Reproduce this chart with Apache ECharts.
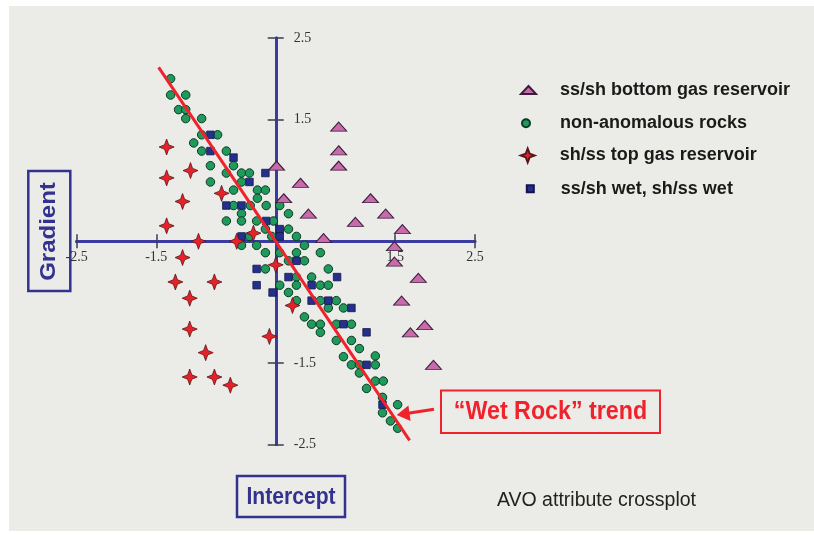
<!DOCTYPE html>
<html>
<head>
<meta charset="utf-8">
<script src="https://cdn.jsdelivr.net/npm/echarts@6/dist/echarts.min.js"></script>
<style>
  html, body { margin: 0; padding: 0; background: #ffffff; }
  #chart { width: 814px; height: 535px; }
</style>
</head>
<body>
<div id="chart"></div>
<script>
// AVO crossplot: intercept (x) against gradient (y) for four rock classes.

const seriesNames = [
  'ss/sh bottom gas reservoir',
  'non-anomalous rocks',
  'sh/ss top gas reservoir',
  'ss/sh wet, sh/ss wet'
];

// ss/sh bottom gas reservoir
const bottomGasX = [0.79, 0.79, 0.79, 0.01, 0.31, 0.10, 0.41, 1.19, 1.38, 1.00, 1.59, 0.60, 1.49, 1.49, 1.79, 1.58, 1.87, 1.69, 1.98];
const bottomGasY = [1.41, 1.12, 0.93, 0.93, 0.72, 0.53, 0.34, 0.53, 0.34, 0.24, 0.15, 0.04, -0.06, -0.25, -0.45, -0.73, -1.03, -1.12, -1.52];

// non-anomalous rocks
const backgroundX = [
  -1.32, -1.32, -1.13, -1.22, -1.13, -1.13, -0.93, -0.93, -0.73, -1.03,
  -0.93, -0.62, -0.82, -0.53, -0.62, -0.43, -0.33, -0.82, -0.43, -0.53,
  -0.23, -0.13, -0.23, -0.53, -0.32, -0.12, 0.05, -0.43, 0.16, -0.62,
  -0.43, -0.24, -0.03, 0.16, -0.13, -0.33, -0.05, 0.26, -0.43, -0.24,
  0.36, -0.13, 0.05, 0.26, 0.56, 0.16, 0.36, -0.13, 0.66, 0.26,
  0.45, 0.05, 0.26, 0.56, 0.66, 0.16, 0.26, 0.56, 0.76, 0.66,
  0.85, 0.36, 0.45, 0.56, 0.76, 0.95, 0.56, 0.76, 0.95, 1.05,
  0.85, 1.25, 0.95, 1.05, 1.25, 1.05, 1.25, 1.35, 1.14, 1.34,
  1.53, 1.34, 1.44, 1.53
];
const backgroundY = [
  2.00, 1.80, 1.80, 1.62, 1.62, 1.51, 1.51, 1.31, 1.31, 1.21,
  1.11, 1.11, 0.93, 0.93, 0.84, 0.84, 0.84, 0.73, 0.73, 0.63,
  0.63, 0.63, 0.53, 0.44, 0.44, 0.44, 0.44, 0.34, 0.34, 0.25,
  0.25, 0.25, 0.25, 0.15, 0.15, 0.06, 0.06, 0.06, -0.05, -0.05,
  -0.05, -0.14, -0.14, -0.14, -0.14, -0.24, -0.24, -0.34, -0.34, -0.44,
  -0.44, -0.54, -0.54, -0.54, -0.54, -0.63, -0.73, -0.73, -0.73, -0.82,
  -0.82, -0.93, -1.02, -1.02, -1.02, -1.02, -1.12, -1.22, -1.22, -1.32,
  -1.42, -1.41, -1.52, -1.52, -1.52, -1.62, -1.72, -1.72, -1.81, -1.92,
  -2.01, -2.11, -2.21, -2.30
];

// sh/ss top gas reservoir
const topGasX = [-1.37, -1.07, -1.37, -1.17, -1.37, -0.68, -0.28, -0.97, -0.49, -1.17, -1.26, -0.77, -1.08, -1.08, -0.88, -1.08, -0.77, -0.57, -0.08, 0.00, 0.21];
const topGasY = [1.16, 0.87, 0.78, 0.49, 0.19, 0.59, 0.10, 0.00, 0.00, -0.20, -0.50, -0.50, -0.70, -1.08, -1.37, -1.67, -1.67, -1.77, -1.17, -0.29, -0.79];

// ss/sh wet, sh/ss wet
const wetX = [-0.82, -0.82, -0.53, -0.13, -0.33, -0.62, -0.43, -0.12, 0.05, -0.43, 0.05, 0.26, -0.24, 0.16, 0.77, -0.24, 0.45, -0.04, 0.45, 0.66, 0.95, 0.85, 1.14, 1.14, 1.34];
const wetY = [1.31, 1.11, 1.03, 0.84, 0.73, 0.44, 0.44, 0.25, 0.15, 0.06, 0.06, -0.24, -0.34, -0.44, -0.44, -0.54, -0.54, -0.63, -0.73, -0.73, -0.82, -1.02, -1.12, -1.52, -2.01];

// "Wet Rock" trend line end points
const trendX = [-1.47, 1.68];
const trendY = [2.14, -2.45];

// axis range and labelled ticks
const axisMin = -2.5;
const axisMax = 2.5;
const tickValues = [-2.5, -1.5, 1.5, 2.5];

const zip = (xs, ys) => xs.map((x, i) => [x, ys[i]]);

// plot box
const GRID = { left: 76.6, top: 38.1, width: 398.3, height: 406.4 };
// distance from the plot edge to the zero line, so the axes cross at the origin
const zeroShiftX = GRID.width * (0 - axisMin) / (axisMax - axisMin);
const zeroShiftY = GRID.height * (axisMax - 0) / (axisMax - axisMin);

const STAR = 'path://M0,-8 L2.2,-2.2 L8,0 L2.2,2.2 L0,8 L-2.2,2.2 L-8,0 L-2.2,-2.2 Z';
const AXIS_BLUE = '#3b3ba0';
const LABEL_BLUE = '#33338f';
const RED = '#f0222b';

const tickStyle = { color: '#3c3c58', width: 1.5 };
const labelFont = { fontFamily: '"Liberation Serif", "Times New Roman", serif', fontSize: 14, color: '#333333' };

function valueAxis(extra) {
  return Object.assign({
    type: 'value',
    min: axisMin,
    max: axisMax,
    splitLine: { show: false },
    axisLine: { show: true, onZero: false, lineStyle: { color: AXIS_BLUE, width: 3 } }
  }, extra);
}

const legendFont = {
  fontFamily: '"Liberation Sans", Arial, sans-serif',
  fontWeight: 'bold',
  fontSize: 18,
  color: '#1a1a1a'
};

function legendRow(name, left, top, w, h, padLeft) {
  return {
    data: [name],
    orient: 'vertical',
    left: left,
    top: top,
    padding: 0,
    itemWidth: w,
    itemHeight: h,
    textStyle: Object.assign({ padding: [0, 0, 0, padLeft] }, legendFont)
  };
}

const chart = echarts.init(document.getElementById('chart'), null, { renderer: 'canvas' });

chart.setOption({
  animation: false,
  backgroundColor: 'transparent',
  grid: Object.assign({ outerBoundsMode: 'none' }, GRID),
  xAxis: [
    valueAxis({
      position: 'bottom',
      offset: -(GRID.height - zeroShiftY),
      axisTick: { show: true, customValues: tickValues, length: 7, lineStyle: tickStyle },
      axisLabel: Object.assign({ customValues: tickValues, margin: 9 }, labelFont)
    }),
    valueAxis({
      position: 'top',
      offset: -zeroShiftY,
      axisTick: { show: true, customValues: tickValues, length: 7, lineStyle: tickStyle },
      axisLabel: { show: false }
    })
  ],
  yAxis: [
    valueAxis({
      position: 'left',
      offset: -zeroShiftX,
      axisTick: { show: true, customValues: tickValues, length: 8, lineStyle: tickStyle },
      axisLabel: Object.assign({ customValues: tickValues, inside: true, margin: 18 }, labelFont)
    }),
    valueAxis({
      position: 'right',
      offset: -(GRID.width - zeroShiftX),
      axisTick: { show: true, customValues: tickValues, length: 8, lineStyle: tickStyle },
      axisLabel: { show: false }
    })
  ],
  legend: [
    legendRow(seriesNames[0], 520, 81, 15, 8, 19),
    legendRow(seriesNames[1], 521, 114.2, 8, 8, 25),
    legendRow(seriesNames[2], 519.7, 146.5, 14, 15, 20),
    legendRow(seriesNames[3], 525.8, 179.8, 7, 7, 22)
  ],
  series: [
    {
      name: seriesNames[1],
      type: 'scatter',
      data: zip(backgroundX, backgroundY),
      symbol: 'circle',
      symbolSize: 8.5,
      itemStyle: { color: '#1f9a5c', borderColor: '#0c3a22', borderWidth: 1, opacity: 1 },
      z: 2
    },
    {
      name: seriesNames[3],
      type: 'scatter',
      data: zip(wetX, wetY),
      symbol: 'rect',
      symbolSize: 7.5,
      itemStyle: { color: '#25308c', borderColor: '#10164a', borderWidth: 0.8, opacity: 1 },
      z: 3
    },
    {
      name: seriesNames[2],
      type: 'scatter',
      data: zip(topGasX, topGasY),
      symbol: STAR,
      symbolSize: [15, 16],
      itemStyle: { color: '#e52229', borderColor: '#5a1418', borderWidth: 0.8, opacity: 1 },
      z: 4
    },
    {
      name: seriesNames[0],
      type: 'scatter',
      data: zip(bottomGasX, bottomGasY),
      symbol: 'triangle',
      symbolSize: [16, 9],
      itemStyle: { color: '#c96aaa', borderColor: '#3a1f3c', borderWidth: 1, opacity: 1 },
      z: 5
    },
    {
      name: 'Wet Rock trend',
      type: 'line',
      data: zip(trendX, trendY),
      showSymbol: false,
      symbol: 'none',
      lineStyle: { color: RED, width: 3 },
      silent: true,
      z: 6
    }
  ],
  graphic: [
    {
      type: 'rect',
      shape: { x: 9, y: 6, width: 805, height: 525 },
      style: { fill: '#ebebe8' },
      silent: true,
      z: -100
    },
    // y-axis title box
    {
      type: 'rect',
      shape: { x: 28.3, y: 171, width: 42, height: 120 },
      style: { fill: 'none', stroke: LABEL_BLUE, lineWidth: 2.5 }
    },
    {
      type: 'text',
      x: 49.5, y: 231.5,
      rotation: Math.PI / 2,
      scaleY: 0.9,
      style: {
        text: 'Gradient',
        font: 'bold 24px "Liberation Sans", Arial, sans-serif',
        fill: LABEL_BLUE,
        align: 'center',
        verticalAlign: 'middle'
      }
    },
    // x-axis title box
    {
      type: 'rect',
      shape: { x: 237, y: 476, width: 108, height: 41 },
      style: { fill: 'none', stroke: LABEL_BLUE, lineWidth: 2.5 }
    },
    {
      type: 'text',
      x: 291, y: 497,
      scaleX: 0.88,
      style: {
        text: 'Intercept',
        font: 'bold 24px "Liberation Sans", Arial, sans-serif',
        fill: LABEL_BLUE,
        align: 'center',
        verticalAlign: 'middle'
      }
    },
    {
      type: 'text',
      x: 596.5, y: 500.5,
      style: {
        text: 'AVO attribute crossplot',
        font: '19.5px "Liberation Sans", Arial, sans-serif',
        fill: '#222222',
        align: 'center',
        verticalAlign: 'middle'
      }
    },
    // trend call-out
    {
      type: 'rect',
      shape: { x: 441, y: 390.5, width: 219, height: 42.5 },
      style: { fill: 'none', stroke: RED, lineWidth: 2 }
    },
    {
      type: 'text',
      x: 550.5, y: 412.5,
      scaleX: 0.93,
      style: {
        text: '\u201cWet Rock\u201d trend',
        font: 'bold 25px "Liberation Sans", Arial, sans-serif',
        fill: RED,
        align: 'center',
        verticalAlign: 'middle'
      }
    },
    {
      type: 'line',
      shape: { x1: 434, y1: 409.3, x2: 408, y2: 413.2 },
      style: { stroke: RED, lineWidth: 3 }
    },
    {
      type: 'polygon',
      shape: { points: [[396.7, 415], [410.6, 421], [408.4, 405.6]] },
      style: { fill: RED }
    }
  ]
});
</script>
</body>
</html>
